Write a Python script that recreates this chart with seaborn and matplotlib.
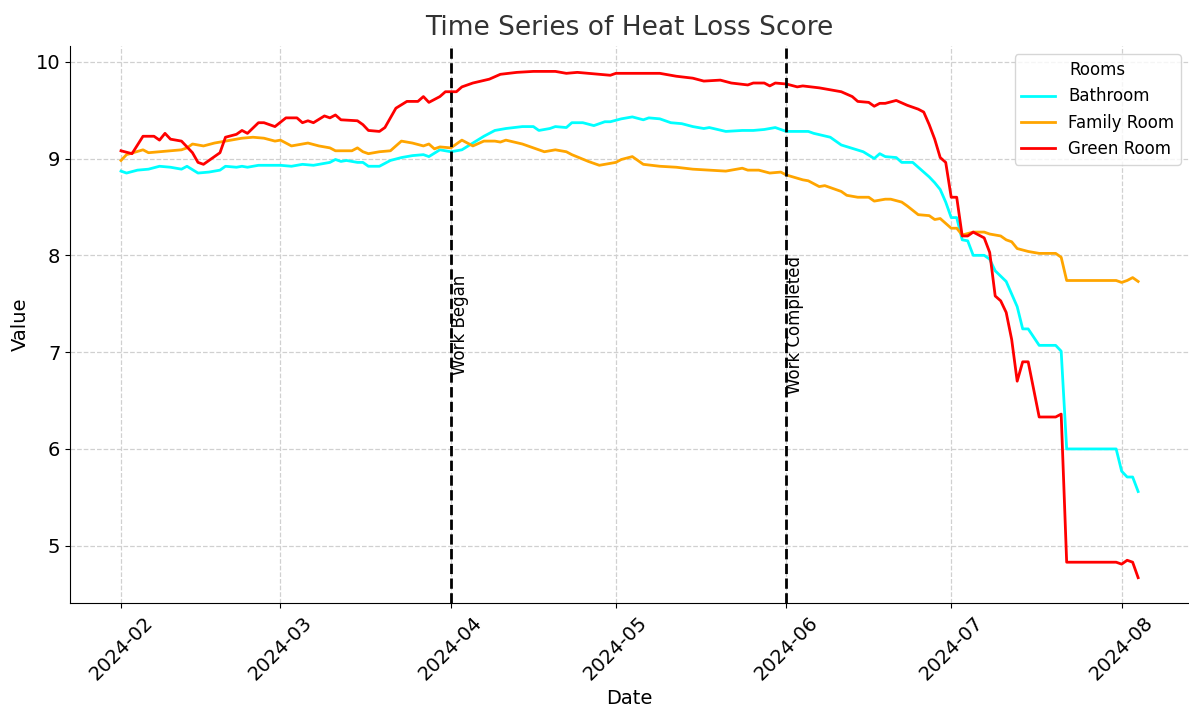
import pandas as pd
import matplotlib.pyplot as plt
import matplotlib.dates as mdates
import seaborn as sns

# days counted from 2024-02-01
start = pd.Timestamp('2024-02-01')

bath_days = [0, 1, 3, 5, 7, 9, 11, 12, 14, 16,
             18, 19, 21, 22, 23, 25, 29, 31, 33, 35,
             38, 39, 40, 41, 43, 44, 45, 47, 49, 51,
             53, 55, 56, 58, 60, 62, 64, 66, 68, 70,
             73, 75, 76, 78, 79, 81, 82, 84, 86, 88,
             89, 91, 93, 95, 96, 98, 100, 102, 104, 106,
             107, 110, 113, 115, 117, 119, 121, 122, 125, 126,
             129, 131, 135, 137, 138, 139, 141, 142, 144, 145,
             147, 148, 149, 150, 151, 152, 153, 154, 155, 157,
             158, 159, 161, 162, 163, 164, 165, 167, 170, 171,
             172, 181, 182, 183, 184, 185]
bath_vals = [8.87, 8.85, 8.88, 8.89, 8.92, 8.91, 8.89, 8.92, 8.85, 8.86,
             8.88, 8.92, 8.91, 8.92, 8.91, 8.93, 8.93, 8.92, 8.94, 8.93,
             8.96, 8.99, 8.97, 8.98, 8.96, 8.96, 8.92, 8.92, 8.98, 9.01,
             9.03, 9.04, 9.02, 9.09, 9.07, 9.09, 9.16, 9.23, 9.29, 9.31,
             9.33, 9.33, 9.29, 9.31, 9.33, 9.32, 9.37, 9.37, 9.34, 9.38,
             9.38, 9.41, 9.43, 9.40, 9.42, 9.41, 9.37, 9.36, 9.33, 9.31,
             9.32, 9.28, 9.29, 9.29, 9.30, 9.32, 9.28, 9.28, 9.28, 9.26,
             9.22, 9.14, 9.07, 9.00, 9.05, 9.02, 9.01, 8.96, 8.96, 8.91,
             8.81, 8.75, 8.68, 8.55, 8.39, 8.39, 8.16, 8.15, 8.00, 8.00,
             7.96, 7.84, 7.73, 7.60, 7.47, 7.24, 7.24, 7.07, 7.07, 7.01,
             6.00, 6.00, 5.77, 5.71, 5.71, 5.56]

family_days = [0, 1, 4, 5, 7, 9, 11, 12, 13, 15,
               17, 19, 22, 24, 26, 28, 29, 31, 34, 36,
               38, 39, 42, 43, 44, 45, 47, 49, 50, 51,
               53, 55, 56, 57, 58, 60, 62, 64, 66, 68,
               69, 70, 73, 75, 77, 79, 81, 82, 85, 87,
               90, 91, 93, 95, 98, 101, 104, 107, 110, 111,
               113, 114, 116, 118, 120, 121, 124, 125, 127, 128,
               131, 132, 134, 136, 137, 139, 140, 142, 143, 145,
               147, 148, 149, 151, 152, 153, 155, 157, 158, 160,
               161, 162, 163, 165, 167, 170, 171, 172, 181, 182,
               183, 184, 185]
family_vals = [8.98, 9.04, 9.09, 9.06, 9.07, 9.08, 9.09, 9.11, 9.15, 9.13,
               9.16, 9.18, 9.21, 9.22, 9.21, 9.18, 9.19, 9.13, 9.16, 9.13,
               9.11, 9.08, 9.08, 9.11, 9.07, 9.05, 9.07, 9.08, 9.13, 9.18,
               9.16, 9.13, 9.15, 9.10, 9.12, 9.11, 9.19, 9.13, 9.18, 9.18,
               9.17, 9.19, 9.15, 9.11, 9.07, 9.09, 9.07, 9.04, 8.97, 8.93,
               8.96, 8.99, 9.02, 8.94, 8.92, 8.91, 8.89, 8.88, 8.87, 8.88,
               8.90, 8.88, 8.88, 8.85, 8.86, 8.83, 8.78, 8.77, 8.71, 8.72,
               8.66, 8.62, 8.60, 8.60, 8.56, 8.58, 8.58, 8.55, 8.51, 8.42,
               8.41, 8.37, 8.38, 8.28, 8.28, 8.21, 8.24, 8.24, 8.22, 8.20,
               8.16, 8.14, 8.07, 8.04, 8.02, 8.02, 7.98, 7.74, 7.74, 7.72,
               7.74, 7.77, 7.73]

green_days = [0, 2, 4, 6, 7, 8, 9, 11, 13, 14,
              15, 18, 19, 21, 22, 23, 25, 26, 28, 30,
              32, 33, 34, 35, 37, 38, 39, 40, 43, 44,
              45, 47, 48, 50, 52, 54, 55, 56, 58, 59,
              61, 62, 64, 67, 69, 72, 75, 79, 81, 83,
              85, 89, 90, 93, 96, 98, 101, 104, 106, 109,
              111, 114, 115, 117, 118, 119, 121, 123, 124, 127,
              130, 131, 133, 134, 136, 137, 138, 139, 141, 143,
              145, 146, 147, 148, 149, 150, 151, 152, 153, 154,
              155, 156, 157, 158, 159, 160, 161, 162, 163, 164,
              165, 167, 170, 171, 172, 181, 182, 183, 184, 185]
green_vals = [9.08, 9.05, 9.23, 9.23, 9.19, 9.26, 9.20, 9.18, 9.06, 8.96,
              8.94, 9.06, 9.22, 9.25, 9.29, 9.26, 9.37, 9.37, 9.33, 9.42,
              9.42, 9.37, 9.39, 9.37, 9.44, 9.42, 9.45, 9.40, 9.39, 9.35,
              9.29, 9.28, 9.32, 9.52, 9.59, 9.59, 9.64, 9.58, 9.64, 9.69,
              9.69, 9.74, 9.78, 9.82, 9.87, 9.89, 9.90, 9.90, 9.88, 9.89,
              9.88, 9.86, 9.88, 9.88, 9.88, 9.88, 9.85, 9.83, 9.80, 9.81,
              9.78, 9.76, 9.78, 9.78, 9.75, 9.78, 9.77, 9.74, 9.75, 9.73,
              9.70, 9.69, 9.64, 9.59, 9.58, 9.54, 9.57, 9.57, 9.60, 9.55,
              9.51, 9.48, 9.35, 9.20, 9.01, 8.96, 8.60, 8.60, 8.20, 8.20,
              8.24, 8.21, 8.18, 8.03, 7.58, 7.53, 7.41, 7.13, 6.70, 6.90,
              6.90, 6.33, 6.33, 6.36, 4.83, 4.83, 4.81, 4.85, 4.83, 4.67]

rooms = ['Bathroom', 'Family Room', 'Green Room']
colors = ['cyan', 'orange', 'red']
events = ['2024-04-01', '2024-06-01']
event_labels = ['Work Began', 'Work Completed']

frames = []
for room, days, vals in zip(rooms, [bath_days, family_days, green_days],
                            [bath_vals, family_vals, green_vals]):
    frames.append(pd.DataFrame({
        'Date': start + pd.to_timedelta(days, unit='D'),
        'Value': vals,
        'Room': room,
    }))
df = pd.concat(frames, ignore_index=True)

fig, ax = plt.subplots(figsize=(11.89, 7.09), dpi=100)
sns.lineplot(data=df, x='Date', y='Value', hue='Room', hue_order=rooms,
             palette=dict(zip(rooms, colors)), linewidth=2, ax=ax)

for d, lab in zip(events, event_labels):
    ax.axvline(pd.Timestamp(d), color='black', linestyle='--', linewidth=2)
    ax.text(pd.Timestamp(d), 7.28, lab, rotation=90, va='center', ha='left', fontsize=12)

ax.set_title('Time Series of Heat Loss Score', fontsize=19, color='#333333', pad=8)
ax.set_xlabel('Date', fontsize=14)
ax.set_ylabel('Value', fontsize=14)
ax.xaxis.set_major_locator(mdates.MonthLocator())
ax.xaxis.set_major_formatter(mdates.DateFormatter('%Y-%m'))
ax.tick_params(axis='both', labelsize=14)
plt.setp(ax.get_xticklabels(), rotation=45)
ax.grid(True, linestyle='--', color='#d0d0d0', linewidth=0.9)
ax.spines['top'].set_visible(False)
ax.spines['right'].set_visible(False)
ax.legend(title='Rooms', loc='upper right', fontsize=12, title_fontsize=12)

fig.subplots_adjust(left=0.059, right=1.0, bottom=0.1495, top=0.935)
fig.savefig('out.png', dpi=100)
